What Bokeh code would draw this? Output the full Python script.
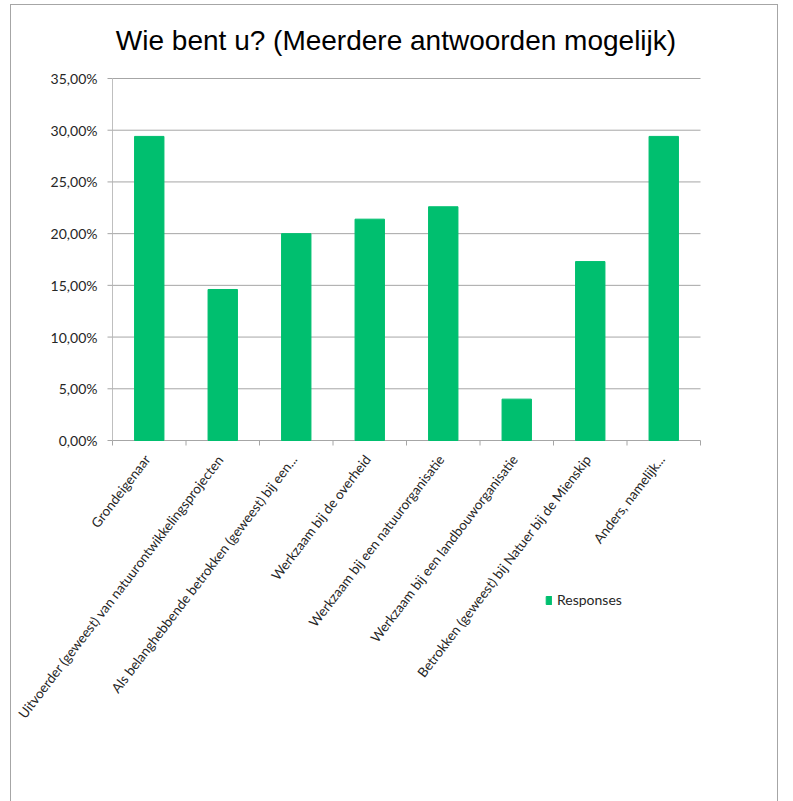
import math
from bokeh.plotting import figure
from bokeh.models import Legend, LegendItem, ColumnDataSource, Range1d
from bokeh.core.properties import value
from bokeh.embed import file_html
from bokeh.resources import INLINE

categories = [
    "Grondeigenaar",
    "Uitvoerder (geweest) van natuurontwikkelingsprojecten",
    "Als belanghebbende betrokken (geweest) bij een...",
    "Werkzaam bij de overheid",
    "Werkzaam bij een natuurorganisatie",
    "Werkzaam bij een landbouworganisatie",
    "Betrokken (geweest) bij Natuer bij de Mienskip",
    "Anders, namelijk...",
]
responses = [29.4, 14.6, 20.0, 21.4, 22.6, 4.0, 17.3, 29.4]
y_ticks = [0, 5, 10, 15, 20, 25, 30, 35]
y_tick_labels = ["0,00%", "5,00%", "10,00%", "15,00%", "20,00%", "25,00%", "30,00%", "35,00%"]

GREEN = "#00BF6F"
GRID = "#a6a6a6"
TXT = "#262626"
n = len(categories)
y_top = y_ticks[-1]
x_pos = [i + 0.5 for i in range(n)]
src = ColumnDataSource(dict(x=x_pos, top=responses, label=categories, zero=[0] * n))
bounds_src = ColumnDataSource(dict(x=list(range(n + 1)), y=[0] * (n + 1)))
ytick_src = ColumnDataSource(dict(x0=[0] * len(y_ticks), x1=[n] * len(y_ticks),
                                  y=y_ticks, label=y_tick_labels))

# Layout (page px): the frame covers page x 12..777, y 63..796.
# The value axis runs from page y 439 (0) to 77 (35); the categories from x 111 to 699.
py_per_unit = 362 / 35
px_per_cat = (699 - 111) / n
y_min = -(796 - 439) / py_per_unit
y_max = y_top + (77 - 63) / py_per_unit
x_min = -(111 - 12) / px_per_cat
x_max = n + (777 - 699) / px_per_cat

p = figure(width=768, height=797, output_backend="svg", toolbar_location=None,
           x_range=Range1d(x_min, x_max), y_range=Range1d(y_min, y_max),
           x_axis_location=None, y_axis_location=None,
           min_border_left=2, min_border_right=1, min_border_top=59, min_border_bottom=5)
p.margin = (4, 0, 0, 10)
p.styles = {"border-left": "1px solid #a6a6a6", "border-top": "1px solid #a6a6a6",
            "border-right": "1px solid #a6a6a6"}
p.outline_line_color = None
p.xgrid.visible = False
p.ygrid.visible = False

# horizontal gridlines (the one at 0 doubles as the category axis line)
p.segment(x0="x0", y0="y", x1="x1", y1="y", source=ytick_src,
          line_color=GRID, line_width=1)
# value axis line
p.segment(x0=[0], y0=[0], x1=[0], y1=[y_top], line_color="#bfbfbf", line_width=1)

r = p.vbar(x="x", top="top", width=0.4, source=src, fill_color=GREEN, line_color=GREEN)

# value axis ticks and labels
p.ray(x="x0", y="y", length=5, length_units="screen", angle=math.pi,
      source=ytick_src, line_color=GRID, line_width=1)
p.text(x="x0", y="y", text="label", source=ytick_src, text_align="right",
       text_baseline="middle", x_offset=-15, text_font=value("Lato"),
       text_font_size=value("14px"), text_color=TXT)

# category axis ticks and labels
p.ray(x="x", y="y", length=5, length_units="screen", angle=-math.pi / 2,
      source=bounds_src, line_color=GRID, line_width=1)
p.text(x="x", y="zero", text="label", source=src, angle=0.916,
       text_align="right", text_baseline="middle", x_offset=-2, y_offset=16,
       text_font=value("Lato"), text_font_size=value("13.5px"), text_color=TXT)

p.title.text = "Wie bent u? (Meerdere antwoorden mogelijk)"
p.title.text_font = "'Liberation Sans Narrow', 'Liberation Sans', sans-serif"
p.title.text_font_size = "28px"
p.title.text_font_style = "normal"
p.title.align = "center"
p.title.offset = 6
p.title.text_color = "#000000"
p.title.standoff = 17

legend = Legend(items=[LegendItem(label="Responses", renderers=[r])],
                location=(532, 189), orientation="vertical")
legend.glyph_width = 7
legend.glyph_height = 10
legend.label_text_font = "Lato"
legend.label_text_font_size = "14px"
legend.label_text_color = TXT
legend.border_line_color = None
legend.background_fill_alpha = 0
legend.padding = 0
legend.margin = 0
legend.label_standoff = 5
p.add_layout(legend, "center")

open("out.html", "w").write(file_html(p, INLINE))
